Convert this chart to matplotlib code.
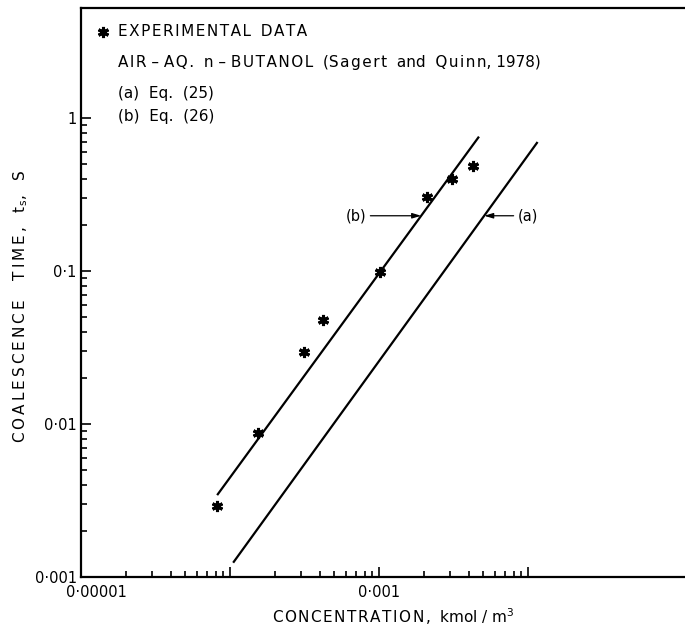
import numpy as np
import matplotlib
matplotlib.use("Agg")
from matplotlib import pyplot as plt
from matplotlib import ticker, transforms

# experimental coalescence times, air - aq. n-butanol
conc = [8.2e-5, 1.53e-4, 3.13e-4, 4.23e-4, 1.02e-3, 2.09e-3, 3.1e-3, 4.26e-3]
ts = [0.0029, 0.0088, 0.0294, 0.048, 0.099, 0.303, 0.40, 0.49]

# end points of the predicted lines
conc_a = [1.05e-4, 1.16e-2]     # Eq. (25)
ts_a = [0.00124, 0.698]
conc_b = [8.2e-5, 4.69e-3]      # Eq. (26)
ts_b = [0.00343, 0.757]

xticks_major = [1e-5, 1e-4, 1e-3, 1e-2]
xtick_labels = ['0·00001', '', '0·001', '']
yticks_major = [1e-3, 1e-2, 1e-1, 1.0]
ytick_labels = ['0·001', '0·01', '0·1', '1']

label_level = 0.23   # height of the (a)/(b) pointers

plt.rcParams['font.family'] = ['DejaVu Sans']
fs = 10.5
fs_text = 11


def spaced(s, gap='\u200a'):
    # lettering on the old drawings is set wide
    return gap.join(s)


fig = plt.figure(figsize=(6.85, 6.32), dpi=100)
ax = fig.add_axes([81 / 685, 55 / 632, 604 / 685, 569 / 632])

ax.set_xscale('log')
ax.set_yscale('log')
ax.set_xlim(1e-5, 10 ** -0.946)
ax.set_ylim(1e-3, 10 ** 0.72)

ax.plot(conc_a, ts_a, color='black', lw=1.6, solid_capstyle='butt')
ax.plot(conc_b, ts_b, color='black', lw=1.6, solid_capstyle='butt')
ax.plot(conc, ts, linestyle='none', marker=(6, 2, 0), ms=8, mew=2.2,
        color='black')

# ticks only over the printed range
minor_x = [m * 10.0 ** e for e in range(-5, -2) for m in range(2, 10)]
minor_y = [m * 10.0 ** e for e in range(-3, 0) for m in range(2, 10)]
ax.xaxis.set_major_locator(ticker.FixedLocator(xticks_major))
ax.xaxis.set_major_formatter(ticker.FixedFormatter(xtick_labels))
ax.xaxis.set_minor_locator(ticker.FixedLocator(minor_x))
ax.xaxis.set_minor_formatter(ticker.NullFormatter())
ax.yaxis.set_major_locator(ticker.FixedLocator(yticks_major))
ax.yaxis.set_major_formatter(ticker.FixedFormatter(ytick_labels))
ax.yaxis.set_minor_locator(ticker.FixedLocator(minor_y))
ax.yaxis.set_minor_formatter(ticker.NullFormatter())

ax.tick_params(which='both', direction='in', top=False, right=False,
               width=1.2, labelsize=fs)
ax.tick_params(which='major', length=7)
ax.tick_params(which='minor', length=4.5)
ax.tick_params(axis='x', which='major', pad=6)
ax.tick_params(axis='y', which='major', pad=3)

for side in ['left', 'bottom', 'top']:
    ax.spines[side].set_linewidth(1.6)
ax.spines['right'].set_visible(False)

# shift the corner label clear of the y labels
shift = transforms.ScaledTranslation(0.15, 0, fig.dpi_scale_trans)
first = ax.xaxis.get_major_ticks()[0].label1
first.set_transform(first.get_transform() + shift)

ax.set_xlabel(spaced('CONCENTRATION,') + '  kmol / m$^3$', fontsize=fs_text)
ax.xaxis.set_label_coords(0.517, -0.052)
ax.set_ylabel(spaced('COALESCENCE', '\u2009') + '    '
              + spaced('TIME,', '\u2009') + '   '
              + '$\\mathrm{t_s}$,   S', fontsize=fs_text)
ax.yaxis.set_label_coords(-0.084, 0.475)

# pointers to the two lines
la = np.log10(label_level)
xb = 10 ** np.interp(la, np.log10(ts_b), np.log10(conc_b))
xa = 10 ** np.interp(la, np.log10(ts_a), np.log10(conc_a))
arrow = dict(arrowstyle='-|>,head_length=0.5,head_width=0.15', lw=0.9,
             color='black', shrinkA=1, shrinkB=0)
ax.annotate('(b)', xy=(xb, label_level), xytext=(7.0e-4, label_level),
            ha='center', va='center', fontsize=fs, arrowprops=arrow)
ax.annotate('(a)', xy=(xa, label_level), xytext=(1.0e-2, label_level),
            ha='center', va='center', fontsize=fs, arrowprops=arrow)

# key
ax.plot([0.037], [0.958], transform=ax.transAxes, linestyle='none',
        marker=(6, 2, 0), ms=8, mew=2.2, color='black', clip_on=False)
ax.text(0.062, 0.958, spaced('EXPERIMENTAL') + '  ' + spaced('DATA'),
        transform=ax.transAxes, fontsize=fs_text, va='center')
ax.text(0.062, 0.905,
        spaced('AIR') + ' – ' + spaced('AQ.') + '  n – ' + spaced('BUTANOL')
        + '  (' + spaced('Sagert') + '  and  ' + spaced('Quinn') + ', 1978)',
        transform=ax.transAxes, fontsize=fs_text, va='center')
ax.text(0.062, 0.849, '(a)  Eq.  (25)', transform=ax.transAxes,
        fontsize=fs_text, va='center')
ax.text(0.062, 0.810, '(b)  Eq.  (26)', transform=ax.transAxes,
        fontsize=fs_text, va='center')

fig.savefig('out.png', dpi=100)
